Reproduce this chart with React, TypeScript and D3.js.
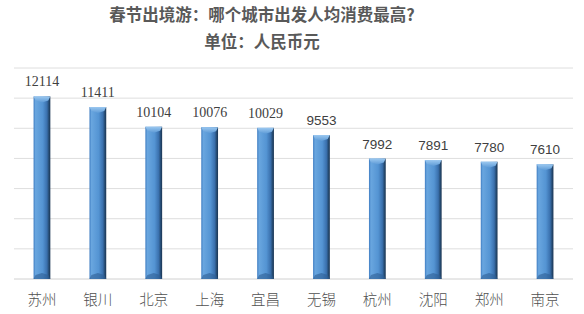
import React from "react";
import * as d3 from "d3";

const titleLines = ["春节出境游：哪个城市出发人均消费最高?", "单位：人民币元"];
const cities = ["苏州", "银川", "北京", "上海", "宜昌", "无锡", "杭州", "沈阳", "郑州", "南京"];
const spend = [12114, 11411, 10104, 10076, 10029, 9553, 7992, 7891, 7780, 7610];
const yTicks = [0, 2000, 4000, 6000, 8000, 10000, 12000, 14000];

const W = 584;
const H = 314;
const left = 14;
const right = 573;
const top = 68;
const bottom = 279;

export default function App() {
  const x = d3.scaleBand<string>().domain(cities).range([left, right]).paddingInner(0.7).paddingOuter(0.35);
  const y = d3.scaleLinear().domain([0, 14000]).range([bottom, top]);
  const bw = x.bandwidth();
  return (
    <div style={{ position: "absolute", left: 0, top: 0, width: W, height: H, background: "#fff" }}>
      <svg width={W} height={H} style={{ display: "block" }}>
        <defs>
          <linearGradient id="barGrad" x1="0" x2="1" y1="0" y2="0">
            <stop offset="0" stopColor="#3f7dc2" />
            <stop offset="0.12" stopColor="#69a6df" />
            <stop offset="0.55" stopColor="#5494d3" />
            <stop offset="0.8" stopColor="#3a70ad" />
            <stop offset="0.92" stopColor="#24496f" />
            <stop offset="1" stopColor="#1b3553" />
          </linearGradient>
          <linearGradient id="capGrad" x1="0" x2="0" y1="0" y2="1">
            <stop offset="0" stopColor="#9bc8f0" />
            <stop offset="1" stopColor="#5d9ad6" />
          </linearGradient>
        </defs>
        <rect width={W} height={H} fill="#fff" />
        {titleLines.map((t, i) => (
          <text
            key={i}
            x={262}
            y={21 + i * 27}
            textAnchor="middle"
            fontFamily="'Noto Sans CJK SC', sans-serif"
            fontWeight="bold"
            fontSize={16.5}
            fill="#595959"
          >
            {t}
          </text>
        ))}
        {yTicks.map((t) => (
          <line key={t} x1={left} x2={right} y1={y(t)} y2={y(t)} stroke={t === 0 ? "#d0d0d0" : "#dedede"} strokeWidth={1} />
        ))}
        {cities.map((c, i) => {
          const x0 = x(c)!;
          const yt = y(spend[i]);
          const h = bottom - yt;
          return (
            <g key={c}>
              <rect x={x0} y={yt} width={bw} height={h} fill="url(#barGrad)" />
              <path
                d={`M${x0},${yt} L${x0 + bw},${yt} L${x0 + bw - 2},${yt + 4} L${x0 + bw / 2},${yt + 6} L${x0 + 2},${yt + 4} Z`}
                fill="url(#capGrad)"
              />
              <path
                d={`M${x0},${bottom} L${x0 + bw},${bottom} L${x0 + bw - 2},${bottom - 4} L${x0 + bw / 2},${bottom - 6} L${x0 + 2},${bottom - 4} Z`}
                fill="#2f5f95"
                opacity={0.6}
              />
              <text
                x={x0 + bw / 2}
                y={yt - 10}
                textAnchor="middle"
                fontFamily={spend[i] >= 10000 ? "'Liberation Serif', serif" : "'Liberation Sans', sans-serif"}
                fontSize={spend[i] >= 10000 ? 14 : 13.5}
                fill="#404040"
              >
                {spend[i]}
              </text>
              <text
                x={x0 + bw / 2}
                y={305}
                textAnchor="middle"
                fontFamily="'Noto Sans CJK SC', sans-serif"
                fontWeight={300}
                fontSize={14.5}
                fill="#505050"
              >
                {c}
              </text>
            </g>
          );
        })}
      </svg>
    </div>
  );
}
